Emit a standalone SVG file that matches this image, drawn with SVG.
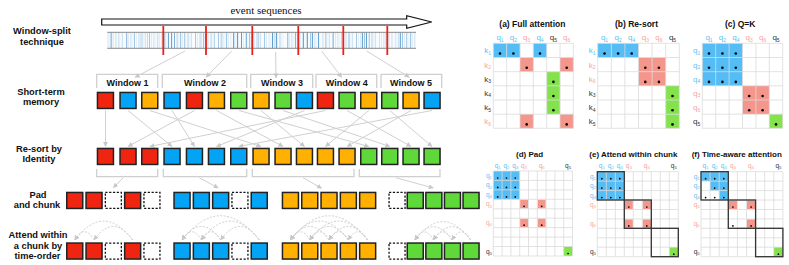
<svg xmlns="http://www.w3.org/2000/svg" width="789" height="265" viewBox="0 0 789 265">
<style>
text{font-family:"Liberation Sans",Arial,sans-serif}
text.serif{font-family:"Liberation Serif","Times New Roman",serif}
.lab{font-weight:bold;font-size:9.3px;fill:#111;text-anchor:middle}
.win{font-weight:bold;font-size:9px;fill:#111;text-anchor:middle}
.ttl{font-weight:bold;font-size:8.5px;fill:#111}
.ttl2{font-weight:bold;font-size:8px;fill:#111}
.q{font-size:8px;text-anchor:middle}
.qe{font-size:8px;text-anchor:end}
.qs{font-size:6.5px;text-anchor:middle}
.qse{font-size:6.5px;text-anchor:end}
.s{font-size:5px}
.ss{font-size:4.3px}
.cb{fill:#5ec1f0}.cp{fill:#f5a49c}.cd{fill:#333}
.sq rect{stroke:#222;stroke-width:1.5}
.R{fill:#f02511}.B{fill:#05a3f3}.O{fill:#ffb000}.G{fill:#5fd93a}
.P{fill:#fff;stroke:#111!important;stroke-width:1.3!important;stroke-dasharray:2.2 1.6}
.fb{fill:#55bdf5}.fp{fill:#f5968c}.fg{fill:#84e34d}
.grid{fill:none;stroke:#dadada;stroke-width:0.8}
.blk{fill:none;stroke:#333;stroke-width:1.3}
.gc{fill:none;stroke:#d0d0d0;stroke-width:1}
.arc{fill:none;stroke:#cfcfcf;stroke-width:1;stroke-dasharray:2 1.5}
.br{fill:none;stroke:#cfcfcf;stroke-width:1.3}
</style>
<defs>
<marker id="ah" viewBox="0 0 6 6" refX="5.5" refY="3" markerWidth="5" markerHeight="5" markerUnits="userSpaceOnUse" orient="auto"><path d="M0,0 L6,3 L0,6 z" fill="#c8c8c8"/></marker>
<pattern id="st" patternUnits="userSpaceOnUse" x="107" y="32" width="23" height="17">
<rect width="23" height="17" fill="#f7fbfe"/>
<rect x="0.5" width="0.8" height="17" fill="#c3dcef"/>
<rect x="2.6" width="0.6" height="17" fill="#e2eef8"/>
<rect x="4.2" width="0.9" height="17" fill="#8dbce2"/>
<rect x="6.3" width="0.6" height="17" fill="#d3e5f3"/>
<rect x="8.6" width="0.7" height="17" fill="#b4d4ec"/>
<rect x="11.6" width="0.8" height="17" fill="#a3c9e8"/>
<rect x="13.7" width="0.6" height="17" fill="#dbeaf5"/>
<rect x="15.3" width="0.7" height="17" fill="#c0daee"/>
<rect x="19" width="0.9" height="17" fill="#9ac3e6"/>
<rect x="21.2" width="0.6" height="17" fill="#cfe3f2"/>
</pattern>
<pattern id="st2" patternUnits="userSpaceOnUse" x="107" y="32" width="37" height="17">
<rect x="3" width="0.9" height="17" fill="#3d8ac7" opacity="0.3"/>
<rect x="12.5" width="1.2" height="17" fill="#ffffff" opacity="0.7"/>
<rect x="19.5" width="1" height="17" fill="#3d8ac7" opacity="0.25"/>
<rect x="28" width="1.2" height="17" fill="#ffffff" opacity="0.7"/>
<rect x="33" width="0.9" height="17" fill="#3d8ac7" opacity="0.2"/>
</pattern>
</defs>
<rect width="789" height="265" fill="#fff"/>

<g id="row-labels">
<text class="lab" x="42" y="34.4">Window-split</text>
<text class="lab" x="42" y="44.8">technique</text>
<text class="lab" x="41" y="94.5">Short-term</text>
<text class="lab" x="41" y="104.5">memory</text>
<text class="lab" x="39" y="151.8">Re-sort by</text>
<text class="lab" x="39" y="162.3">Identity</text>
<text class="lab" x="38" y="197.7">Pad</text>
<text class="lab" x="37" y="208.3">and chunk</text>
<text class="lab" x="38" y="237.7">Attend within</text>
<text class="lab" x="38" y="248.5">a chunk by</text>
<text class="lab" x="37.5" y="258.8">time-order</text>
</g>

<g id="event-sequence">
<text class="serif" x="266" y="14" font-size="11" text-anchor="middle" fill="#111">event sequences</text>
<polygon points="101.7,19 406.7,19 406.7,15.7 431.7,22 406.7,28.3 406.7,25 101.7,25" fill="#fff" stroke="#111" stroke-width="1.2"/>
<rect x="107.3" y="32.3" width="308.7" height="16" fill="url(#st)"/>
<rect x="107.3" y="32.3" width="308.7" height="16" fill="url(#st2)"/>
<g fill="#3f8ac6" opacity="0.75">
<rect x="168" y="32.3" width="0.9" height="16"/><rect x="171" y="32.3" width="1" height="16"/><rect x="174" y="32.3" width="0.8" height="16"/>
<rect x="233" y="32.3" width="0.9" height="16"/><rect x="237" y="32.3" width="1" height="16"/><rect x="241" y="32.3" width="0.9" height="16"/><rect x="246" y="32.3" width="0.8" height="16"/>
<rect x="272" y="32.3" width="0.9" height="16"/><rect x="276" y="32.3" width="1" height="16"/>
<rect x="303" y="32.3" width="0.9" height="16"/><rect x="307" y="32.3" width="1" height="16"/><rect x="312" y="32.3" width="0.9" height="16"/><rect x="318" y="32.3" width="0.8" height="16"/>
<rect x="362" y="32.3" width="0.9" height="16"/><rect x="366" y="32.3" width="1" height="16"/><rect x="400" y="32.3" width="0.9" height="16"/>
</g>
<path d="M107.3,32.3 H416 M107.3,48.3 H416" stroke="#8a8a8a" stroke-width="1"/>
<path d="M163.3,26 V55 M206,26 V55 M252.3,26 V55 M298.3,26 V55 M343.3,26 V55 M387.3,26 V55" stroke="#e8231a" stroke-width="1.8"/>
</g>

<g id="windows">
<path class="br" d="M96.7,88 V74.3 H157.7 V88 M162.3,88 V74.3 H246.7 V88 M250.7,88 V74.3 H312.7 V88 M316,88 V74.3 H376.7 V88 M381,88 V74.3 H441.7 V88"/>
<text class="win" x="127.5" y="86">Window 1</text>
<text class="win" x="205" y="86">Window 2</text>
<text class="win" x="282" y="86">Window 3</text>
<text class="win" x="346.7" y="86">Window 4</text>
<text class="win" x="411" y="86">Window 5</text>
</g>

<g id="connectors">
<g class="gc" marker-end="url(#ah)">
<path d="M185,51 L135,77.3"/>
<path d="M231.7,51 L206,77.3"/>
<path d="M275.7,52 L276,78"/>
<path d="M321.7,51 L341.7,77.3"/>
<path d="M366.7,51 L409.3,77.3"/>
<path d="M105.5,110.5 L105.5,146.5"/>
<path d="M194.5,110.5 L128,146.5"/>
<path d="M325.5,110.5 L149.8,146.5"/>
<path d="M128,110.5 L172,146.5"/>
<path d="M172,110.5 L194.5,146.5"/>
<path d="M304.5,110.5 L216.5,146.5"/>
<path d="M432,110.5 L238.8,146.5"/>
<path d="M149.8,110.5 L261,146.5"/>
<path d="M216.5,110.5 L283,146.5"/>
<path d="M261,110.5 L304.5,146.5"/>
<path d="M368.8,110.5 L325.5,146.5"/>
<path d="M411,110.5 L347,146.5"/>
<path d="M238.8,110.5 L368.8,146.5"/>
<path d="M283,110.5 L389.8,146.5"/>
<path d="M347,110.5 L411,146.5"/>
<path d="M389.8,110.5 L432,146.5"/>
<path d="M123.3,177.7 L113.3,187.7"/>
<path d="M199.3,177.7 L218.3,188"/>
<path d="M303,177.7 L321.7,188.3"/>
<path d="M396,177.7 L433.3,188"/>
</g>
<path class="br" d="M96.7,169 V176.7 H157.7 V169 M163.3,169 V176.7 H246.7 V169 M252.3,169 V176.7 H354 V169 M359.3,169 V176.7 H440 V169"/>
<g class="arc" marker-end="url(#ah)">
<path d="M94.05,240 Q84.4,223.4 74.75,240"/>
<path d="M132.65,240 Q103.7,202.2 74.75,240"/>
<path d="M132.65,240 Q113.35,212.8 94.05,240"/>
<path d="M201.35,240 Q191.7,223.4 182.05,240"/>
<path d="M220.65,240 Q201.35,212.8 182.05,240"/>
<path d="M220.65,240 Q211,223.4 201.35,240"/>
<path d="M259.25,240 Q220.65,191.5 182.05,240"/>
<path d="M259.25,240 Q230.3,202.2 201.35,240"/>
<path d="M259.25,240 Q239.95,212.8 220.65,240"/>
<path d="M309.75,240 Q300.1,223.4 290.45,240"/>
<path d="M329.05,240 Q309.75,212.8 290.45,240"/>
<path d="M329.05,240 Q319.4,223.4 309.75,240"/>
<path d="M348.35,240 Q319.4,202.2 290.45,240"/>
<path d="M348.35,240 Q329.05,212.8 309.75,240"/>
<path d="M348.35,240 Q338.7,223.4 329.05,240"/>
<path d="M367.65,240 Q329.05,191.5 290.45,240"/>
<path d="M367.65,240 Q338.7,202.2 309.75,240"/>
<path d="M367.65,240 Q348.35,212.8 329.05,240"/>
<path d="M367.65,240 Q358,223.4 348.35,240"/>
<path d="M433.5,240 Q424.2,223.8 414.9,240"/>
<path d="M452.1,240 Q433.5,213.5 414.9,240"/>
<path d="M452.1,240 Q442.8,223.8 433.5,240"/>
<path d="M470.7,240 Q442.8,203.3 414.9,240"/>
<path d="M470.7,240 Q452.1,213.5 433.5,240"/>
<path d="M470.7,240 Q461.4,223.8 452.1,240"/>
</g>
</g>

<g id="short-term-memory" class="sq">
<rect id="m0" class="R" x="97.45" y="92.45" width="16" height="16"/>
<rect id="m1" class="B" x="120.05" y="92.45" width="16" height="16"/>
<rect id="m2" class="O" x="141.75" y="92.45" width="16" height="16"/>
<rect id="m3" class="B" x="164.05" y="92.45" width="16" height="16"/>
<rect id="m4" class="R" x="186.45" y="92.45" width="16" height="16"/>
<rect id="m5" class="O" x="208.45" y="92.45" width="16" height="16"/>
<rect id="m6" class="G" x="230.75" y="92.45" width="16" height="16"/>
<rect id="m7" class="O" x="253.05" y="92.45" width="16" height="16"/>
<rect id="m8" class="G" x="275.05" y="92.45" width="16" height="16"/>
<rect id="m9" class="B" x="296.45" y="92.45" width="16" height="16"/>
<rect id="m10" class="R" x="317.45" y="92.45" width="16" height="16"/>
<rect id="m11" class="G" x="339.05" y="92.45" width="16" height="16"/>
<rect id="m12" class="O" x="360.75" y="92.45" width="16" height="16"/>
<rect id="m13" class="G" x="381.75" y="92.45" width="16" height="16"/>
<rect id="m14" class="O" x="403.05" y="92.45" width="16" height="16"/>
<rect id="m15" class="B" x="424.05" y="92.45" width="16" height="16"/>
</g>

<g id="resorted" class="sq">
<rect id="r0" class="R" x="97.45" y="148.45" width="16" height="16"/>
<rect id="r1" class="R" x="120.05" y="148.45" width="16" height="16"/>
<rect id="r2" class="R" x="141.75" y="148.45" width="16" height="16"/>
<rect id="r3" class="B" x="164.05" y="148.45" width="16" height="16"/>
<rect id="r4" class="B" x="186.45" y="148.45" width="16" height="16"/>
<rect id="r5" class="B" x="208.45" y="148.45" width="16" height="16"/>
<rect id="r6" class="B" x="230.75" y="148.45" width="16" height="16"/>
<rect id="r7" class="O" x="253.05" y="148.45" width="16" height="16"/>
<rect id="r8" class="O" x="275.05" y="148.45" width="16" height="16"/>
<rect id="r9" class="O" x="296.45" y="148.45" width="16" height="16"/>
<rect id="r10" class="O" x="317.45" y="148.45" width="16" height="16"/>
<rect id="r11" class="O" x="339.05" y="148.45" width="16" height="16"/>
<rect id="r12" class="G" x="360.75" y="148.45" width="16" height="16"/>
<rect id="r13" class="G" x="381.75" y="148.45" width="16" height="16"/>
<rect id="r14" class="G" x="403.05" y="148.45" width="16" height="16"/>
<rect id="r15" class="G" x="424.05" y="148.45" width="16" height="16"/>
</g>

<g id="pad-chunk" class="sq">
<rect id="p0" class="R" x="66.75" y="192.45" width="16" height="16"/>
<rect id="p1" class="R" x="86.05" y="192.45" width="16" height="16"/>
<rect id="p2" class="P" x="105.35" y="192.45" width="16" height="16"/>
<rect id="p3" class="R" x="124.65" y="192.45" width="16" height="16"/>
<rect id="p4" class="P" x="143.95" y="192.45" width="16" height="16"/>
<rect id="p5" class="B" x="174.05" y="192.45" width="16" height="16"/>
<rect id="p6" class="B" x="193.35" y="192.45" width="16" height="16"/>
<rect id="p7" class="B" x="212.65" y="192.45" width="16" height="16"/>
<rect id="p8" class="P" x="231.95" y="192.45" width="16" height="16"/>
<rect id="p9" class="B" x="251.25" y="192.45" width="16" height="16"/>
<rect id="p10" class="O" x="282.45" y="192.45" width="16" height="16"/>
<rect id="p11" class="O" x="301.75" y="192.45" width="16" height="16"/>
<rect id="p12" class="O" x="321.05" y="192.45" width="16" height="16"/>
<rect id="p13" class="O" x="340.35" y="192.45" width="16" height="16"/>
<rect id="p14" class="O" x="359.65" y="192.45" width="16" height="16"/>
<rect id="p15" class="P" x="389.05" y="192.45" width="16" height="16"/>
<rect id="p16" class="G" x="407.25" y="192.45" width="16" height="16"/>
<rect id="p17" class="G" x="425.85" y="192.45" width="16" height="16"/>
<rect id="p18" class="G" x="444.45" y="192.45" width="16" height="16"/>
<rect id="p19" class="G" x="463.05" y="192.45" width="16" height="16"/>
</g>

<g id="attend-chunk" class="sq">
<rect id="a0" class="R" x="66.75" y="243.05" width="16" height="16"/>
<rect id="a1" class="R" x="86.05" y="243.05" width="16" height="16"/>
<rect id="a2" class="P" x="105.35" y="243.05" width="16" height="16"/>
<rect id="a3" class="R" x="124.65" y="243.05" width="16" height="16"/>
<rect id="a4" class="P" x="143.95" y="243.05" width="16" height="16"/>
<rect id="a5" class="B" x="174.05" y="243.05" width="16" height="16"/>
<rect id="a6" class="B" x="193.35" y="243.05" width="16" height="16"/>
<rect id="a7" class="B" x="212.65" y="243.05" width="16" height="16"/>
<rect id="a8" class="P" x="231.95" y="243.05" width="16" height="16"/>
<rect id="a9" class="B" x="251.25" y="243.05" width="16" height="16"/>
<rect id="a10" class="O" x="282.45" y="243.05" width="16" height="16"/>
<rect id="a11" class="O" x="301.75" y="243.05" width="16" height="16"/>
<rect id="a12" class="O" x="321.05" y="243.05" width="16" height="16"/>
<rect id="a13" class="O" x="340.35" y="243.05" width="16" height="16"/>
<rect id="a14" class="O" x="359.65" y="243.05" width="16" height="16"/>
<rect id="a15" class="P" x="389.05" y="243.05" width="16" height="16"/>
<rect id="a16" class="G" x="407.25" y="243.05" width="16" height="16"/>
<rect id="a17" class="G" x="425.85" y="243.05" width="16" height="16"/>
<rect id="a18" class="G" x="444.45" y="243.05" width="16" height="16"/>
<rect id="a19" class="G" x="463.05" y="243.05" width="16" height="16"/>
</g>

<g id="matrix-a">
<text class="ttl" x="499.3" y="26.5">(a) Full attention</text>
<rect class="fb" x="493.3" y="43.3" width="13.4" height="14.2"/><rect class="fb" x="506.7" y="43.3" width="13.4" height="14.2"/><rect class="fb" x="533.3" y="43.3" width="13.4" height="14.2"/>
<rect class="fp" x="520" y="57.5" width="13.4" height="14.2"/><rect class="fp" x="560" y="57.5" width="13.4" height="14.2"/><rect class="fp" x="520" y="114.2" width="13.4" height="14.2"/><rect class="fp" x="560" y="114.2" width="13.4" height="14.2"/>
<rect class="fg" x="546.7" y="71.7" width="13.4" height="14.2"/><rect class="fg" x="546.7" y="85.8" width="13.4" height="14.2"/><rect class="fg" x="546.7" y="100" width="13.4" height="14.2"/>
<path class="grid" d="M493.3,43.3V128.3M506.7,43.3V128.3M520,43.3V128.3M533.3,43.3V128.3M546.7,43.3V128.3M560,43.3V128.3M573.3,43.3V128.3M493.3,43.3H573.3M493.3,57.5H573.3M493.3,71.7H573.3M493.3,85.8H573.3M493.3,100H573.3M493.3,114.2H573.3M493.3,128.3H573.3"/>
<g fill="#000"><circle cx="500" cy="53.5" r="1.3"/><circle cx="513.4" cy="53.5" r="1.3"/><circle cx="540" cy="53.5" r="1.3"/><circle cx="526.7" cy="67.7" r="1.3"/><circle cx="566.7" cy="67.7" r="1.3"/><circle cx="526.7" cy="124.4" r="1.3"/><circle cx="566.7" cy="124.4" r="1.3"/><circle cx="553.4" cy="81.9" r="1.3"/><circle cx="553.4" cy="96" r="1.3"/><circle cx="553.4" cy="110.2" r="1.3"/></g>
<text class="q cb" x="500" y="40">q<tspan class="s" dy="1.5">1</tspan></text>
<text class="q cb" x="513.3" y="40">q<tspan class="s" dy="1.5">2</tspan></text>
<text class="q cp" x="526.7" y="40">q<tspan class="s" dy="1.5">3</tspan></text>
<text class="q cb" x="540" y="40">q<tspan class="s" dy="1.5">4</tspan></text>
<text class="q cd" x="553.3" y="40">q<tspan class="s" dy="1.5">5</tspan></text>
<text class="q cp" x="566.7" y="40">q<tspan class="s" dy="1.5">6</tspan></text>
<text class="qe cb" x="491" y="53.4">k<tspan class="s" dy="1.5">1</tspan></text>
<text class="qe cp" x="491" y="67.6">k<tspan class="s" dy="1.5">2</tspan></text>
<text class="qe cd" x="491" y="81.8">k<tspan class="s" dy="1.5">3</tspan></text>
<text class="qe cd" x="491" y="95.9">k<tspan class="s" dy="1.5">4</tspan></text>
<text class="qe cd" x="491" y="110.1">k<tspan class="s" dy="1.5">5</tspan></text>
<text class="qe cp" x="491" y="124.2">k<tspan class="s" dy="1.5">6</tspan></text>
</g>

<g id="matrix-b">
<text class="ttl" x="615" y="26.5">(b) Re-sort</text>
<rect class="fb" x="597.7" y="43.3" width="13.7" height="14.2"/><rect class="fb" x="611.3" y="43.3" width="13.7" height="14.2"/><rect class="fb" x="624.9" y="43.3" width="13.7" height="14.2"/>
<rect class="fp" x="638.5" y="57.5" width="13.7" height="14.2"/><rect class="fp" x="652.1" y="57.5" width="13.7" height="14.2"/><rect class="fp" x="638.5" y="71.7" width="13.7" height="14.2"/><rect class="fp" x="652.1" y="71.7" width="13.7" height="14.2"/>
<rect class="fg" x="665.7" y="85.8" width="13.6" height="14.2"/><rect class="fg" x="665.7" y="100" width="13.6" height="14.2"/><rect class="fg" x="665.7" y="114.2" width="13.6" height="14.1"/>
<path class="grid" d="M597.7,43.3V128.3M611.3,43.3V128.3M624.9,43.3V128.3M638.5,43.3V128.3M652.1,43.3V128.3M665.7,43.3V128.3M679.3,43.3V128.3M597.7,43.3H679.3M597.7,57.5H679.3M597.7,71.7H679.3M597.7,85.8H679.3M597.7,100H679.3M597.7,114.2H679.3M597.7,128.3H679.3"/>
<g fill="#000"><circle cx="604.5" cy="53.5" r="1.3"/><circle cx="618.1" cy="53.5" r="1.3"/><circle cx="631.7" cy="53.5" r="1.3"/><circle cx="645.3" cy="67.7" r="1.3"/><circle cx="658.9" cy="67.7" r="1.3"/><circle cx="645.3" cy="81.9" r="1.3"/><circle cx="658.9" cy="81.9" r="1.3"/><circle cx="672.5" cy="96" r="1.3"/><circle cx="672.5" cy="110.2" r="1.3"/><circle cx="672.5" cy="124.4" r="1.3"/></g>
<text class="q cb" x="604.5" y="40">q<tspan class="s" dy="1.5">1</tspan></text>
<text class="q cb" x="618.1" y="40">q<tspan class="s" dy="1.5">2</tspan></text>
<text class="q cb" x="631.7" y="40">q<tspan class="s" dy="1.5">4</tspan></text>
<text class="q cp" x="645.3" y="40">q<tspan class="s" dy="1.5">3</tspan></text>
<text class="q cp" x="658.9" y="40">q<tspan class="s" dy="1.5">6</tspan></text>
<text class="q cd" x="672.5" y="40">q<tspan class="s" dy="1.5">5</tspan></text>
<text class="qe cb" x="595.5" y="53.4">k<tspan class="s" dy="1.5">1</tspan></text>
<text class="qe cp" x="595.5" y="67.6">k<tspan class="s" dy="1.5">2</tspan></text>
<text class="qe cp" x="595.5" y="81.8">k<tspan class="s" dy="1.5">6</tspan></text>
<text class="qe cd" x="595.5" y="95.9">k<tspan class="s" dy="1.5">3</tspan></text>
<text class="qe cd" x="595.5" y="110.1">k<tspan class="s" dy="1.5">4</tspan></text>
<text class="qe cd" x="595.5" y="124.2">k<tspan class="s" dy="1.5">5</tspan></text>
</g>

<g id="matrix-c">
<text class="ttl" x="725" y="26.5">(c) Q=K</text>
<rect class="fb" x="702.3" y="43.3" width="40.2" height="42.5"/>
<rect class="fp" x="742.5" y="85.8" width="26.8" height="28.4"/>
<rect class="fg" x="769.3" y="114.2" width="13.4" height="14.1"/>
<path class="grid" d="M702.3,43.3V128.3M715.7,43.3V128.3M729.1,43.3V128.3M742.5,43.3V128.3M755.9,43.3V128.3M769.3,43.3V128.3M782.7,43.3V128.3M702.3,43.3H782.7M702.3,57.5H782.7M702.3,71.7H782.7M702.3,85.8H782.7M702.3,100H782.7M702.3,114.2H782.7M702.3,128.3H782.7"/>
<g fill="#000"><circle cx="709" cy="53.5" r="1.3"/><circle cx="722.4" cy="53.5" r="1.3"/><circle cx="735.8" cy="53.5" r="1.3"/><circle cx="709" cy="67.7" r="1.3"/><circle cx="722.4" cy="67.7" r="1.3"/><circle cx="735.8" cy="67.7" r="1.3"/><circle cx="709" cy="81.9" r="1.3"/><circle cx="722.4" cy="81.9" r="1.3"/><circle cx="735.8" cy="81.9" r="1.3"/><circle cx="749.2" cy="96" r="1.3"/><circle cx="762.6" cy="96" r="1.3"/><circle cx="749.2" cy="110.2" r="1.3"/><circle cx="762.6" cy="110.2" r="1.3"/><circle cx="776" cy="124.4" r="1.3"/></g>
<text class="q cb" x="709" y="40">q<tspan class="s" dy="1.5">1</tspan></text>
<text class="q cb" x="722.4" y="40">q<tspan class="s" dy="1.5">2</tspan></text>
<text class="q cb" x="735.8" y="40">q<tspan class="s" dy="1.5">4</tspan></text>
<text class="q cp" x="749.2" y="40">q<tspan class="s" dy="1.5">3</tspan></text>
<text class="q cp" x="762.6" y="40">q<tspan class="s" dy="1.5">6</tspan></text>
<text class="q cd" x="776" y="40">q<tspan class="s" dy="1.5">5</tspan></text>
<text class="qe cb" x="700.3" y="53.4">q<tspan class="s" dy="1.5">1</tspan></text>
<text class="qe cb" x="700.3" y="67.6">q<tspan class="s" dy="1.5">2</tspan></text>
<text class="qe cb" x="700.3" y="81.8">q<tspan class="s" dy="1.5">4</tspan></text>
<text class="qe cp" x="700.3" y="95.9">q<tspan class="s" dy="1.5">3</tspan></text>
<text class="qe cp" x="700.3" y="110.1">q<tspan class="s" dy="1.5">6</tspan></text>
<text class="qe cd" x="700.3" y="124.2">q<tspan class="s" dy="1.5">5</tspan></text>
</g>

<g id="matrix-d">
<text class="ttl2" x="516" y="157.2">(d) Pad</text>
<rect class="fb" x="493.3" y="171" width="26.4" height="28.3"/>
<rect class="fp" x="520.1" y="199.7" width="8" height="8.7"/><rect class="fp" x="537.7" y="199.7" width="8" height="8.7"/><rect class="fp" x="520.1" y="218.6" width="8" height="8.7"/><rect class="fp" x="537.7" y="218.6" width="8" height="8.7"/>
<rect class="fg" x="563.7" y="246.5" width="8.8" height="9.5"/>
<path class="grid" d="M493.3,171V256M502.1,171V256M510.9,171V256M519.7,171V256M528.5,171V256M537.3,171V256M546.1,171V256M554.9,171V256M563.7,171V256M572.5,171V256M493.3,171H572.5M493.3,180.4H572.5M493.3,189.9H572.5M493.3,199.3H572.5M493.3,208.8H572.5M493.3,218.2H572.5M493.3,227.6H572.5M493.3,237.1H572.5M493.3,246.5H572.5M493.3,256H572.5"/>
<g fill="#000"><circle cx="497.7" cy="178" r="0.85"/><circle cx="506.5" cy="178" r="0.85"/><circle cx="515.3" cy="178" r="0.85"/><circle cx="497.7" cy="187.4" r="0.85"/><circle cx="506.5" cy="187.4" r="0.85"/><circle cx="515.3" cy="187.4" r="0.85"/><circle cx="497.7" cy="196.9" r="0.85"/><circle cx="506.5" cy="196.9" r="0.85"/><circle cx="515.3" cy="196.9" r="0.85"/><circle cx="524.1" cy="206.3" r="0.85"/><circle cx="541.7" cy="206.3" r="0.85"/><circle cx="524.1" cy="225.2" r="0.85"/><circle cx="541.7" cy="225.2" r="0.85"/><circle cx="568.1" cy="253.5" r="0.85"/></g>
<text class="qs cb" x="497.7" y="167.5">q<tspan class="ss" dy="1.2">1</tspan></text>
<text class="qs cb" x="506.5" y="167.5">q<tspan class="ss" dy="1.2">2</tspan></text>
<text class="qs cb" x="515.3" y="167.5">q<tspan class="ss" dy="1.2">4</tspan></text>
<text class="qs cp" x="524.1" y="167.5">q<tspan class="ss" dy="1.2">3</tspan></text>
<text class="qs cp" x="541.7" y="167.5">q<tspan class="ss" dy="1.2">6</tspan></text>
<text class="qs cd" x="568.1" y="167.5">q<tspan class="ss" dy="1.2">5</tspan></text>
<text class="qse cb" x="492" y="177.9">q<tspan class="ss" dy="1.2">1</tspan></text>
<text class="qse cb" x="492" y="187.4">q<tspan class="ss" dy="1.2">2</tspan></text>
<text class="qse cb" x="492" y="196.8">q<tspan class="ss" dy="1.2">4</tspan></text>
<text class="qse cp" x="492" y="206.3">q<tspan class="ss" dy="1.2">3</tspan></text>
<text class="qse cp" x="492" y="225.1">q<tspan class="ss" dy="1.2">6</tspan></text>
<text class="qse cd" x="492" y="253.5">q<tspan class="ss" dy="1.2">5</tspan></text>
</g>

<g id="matrix-e">
<text class="ttl2" x="589.3" y="157.2">(e) Attend within chunk</text>
<rect class="fb" x="597.3" y="171.7" width="27" height="28.3"/>
<rect class="fp" x="624.7" y="200.4" width="8.2" height="8.7"/><rect class="fp" x="642.7" y="200.4" width="8.2" height="8.7"/><rect class="fp" x="624.7" y="219.3" width="8.2" height="8.7"/><rect class="fp" x="642.7" y="219.3" width="8.2" height="8.7"/>
<rect class="fg" x="669.3" y="247.2" width="9" height="9.5"/>
<path class="grid" d="M597.3,171.7V256.7M606.3,171.7V256.7M615.3,171.7V256.7M624.3,171.7V256.7M633.3,171.7V256.7M642.3,171.7V256.7M651.3,171.7V256.7M660.3,171.7V256.7M669.3,171.7V256.7M678.3,171.7V256.7M597.3,171.7H678.3M597.3,181.1H678.3M597.3,190.6H678.3M597.3,200H678.3M597.3,209.5H678.3M597.3,218.9H678.3M597.3,228.3H678.3M597.3,237.8H678.3M597.3,247.2H678.3M597.3,256.7H678.3"/>
<rect class="blk" x="597.3" y="171.7" width="27" height="28.3"/>
<rect class="blk" x="624.3" y="200" width="27" height="28.3" stroke="#555"/>
<rect class="blk" x="651.3" y="228.3" width="27" height="28.4"/>
<g fill="#000"><circle cx="601.8" cy="178.7" r="0.85"/><circle cx="610.8" cy="178.7" r="0.85"/><circle cx="619.8" cy="178.7" r="0.85"/><circle cx="601.8" cy="188.1" r="0.85"/><circle cx="610.8" cy="188.1" r="0.85"/><circle cx="619.8" cy="188.1" r="0.85"/><circle cx="601.8" cy="197.6" r="0.85"/><circle cx="610.8" cy="197.6" r="0.85"/><circle cx="619.8" cy="197.6" r="0.85"/><circle cx="628.8" cy="207" r="0.85"/><circle cx="646.8" cy="207" r="0.85"/><circle cx="628.8" cy="225.9" r="0.85"/><circle cx="646.8" cy="225.9" r="0.85"/><circle cx="673.8" cy="254.2" r="0.85"/></g>
<text class="qs cb" x="601.8" y="168">q<tspan class="ss" dy="1.2">1</tspan></text>
<text class="qs cb" x="610.8" y="168">q<tspan class="ss" dy="1.2">2</tspan></text>
<text class="qs cb" x="619.8" y="168">q<tspan class="ss" dy="1.2">4</tspan></text>
<text class="qs cp" x="628.8" y="168">q<tspan class="ss" dy="1.2">3</tspan></text>
<text class="qs cp" x="646.8" y="168">q<tspan class="ss" dy="1.2">6</tspan></text>
<text class="qs cd" x="673.8" y="168">q<tspan class="ss" dy="1.2">5</tspan></text>
<text class="qse cb" x="596" y="178.6">q<tspan class="ss" dy="1.2">1</tspan></text>
<text class="qse cb" x="596" y="188.1">q<tspan class="ss" dy="1.2">2</tspan></text>
<text class="qse cb" x="596" y="197.5">q<tspan class="ss" dy="1.2">4</tspan></text>
<text class="qse cp" x="596" y="207">q<tspan class="ss" dy="1.2">3</tspan></text>
<text class="qse cp" x="596" y="225.8">q<tspan class="ss" dy="1.2">6</tspan></text>
<text class="qse cd" x="596" y="254.2">q<tspan class="ss" dy="1.2">5</tspan></text>
</g>

<g id="matrix-f">
<text class="ttl2" x="691.7" y="157.2">(f) Time-aware attention</text>
<rect class="fb" x="701" y="171.7" width="27.3" height="9.4"/>
<rect class="fb" x="710.1" y="181.1" width="18.2" height="9.5"/>
<rect class="fb" x="719.2" y="190.6" width="9.1" height="9.4"/>
<rect class="fp" x="728.7" y="200.4" width="8.3" height="8.7"/><rect class="fp" x="746.9" y="200.4" width="8.3" height="8.7"/><rect class="fp" x="746.9" y="219.3" width="8.3" height="8.7"/>
<rect class="fg" x="773.8" y="247.2" width="9.1" height="9.5"/>
<path class="grid" d="M701,171.7V256.7M710.1,171.7V256.7M719.2,171.7V256.7M728.3,171.7V256.7M737.4,171.7V256.7M746.5,171.7V256.7M755.6,171.7V256.7M764.7,171.7V256.7M773.8,171.7V256.7M782.9,171.7V256.7M701,171.7H782.9M701,181.1H782.9M701,190.6H782.9M701,200H782.9M701,209.5H782.9M701,218.9H782.9M701,228.3H782.9M701,237.8H782.9M701,247.2H782.9M701,256.7H782.9"/>
<rect class="blk" x="701" y="171.7" width="27.3" height="28.3"/>
<rect class="blk" x="728.3" y="200" width="27.3" height="28.3"/>
<rect class="blk" x="755.6" y="228.3" width="27.3" height="28.4"/>
<g fill="#000"><circle cx="705.6" cy="178.7" r="0.85"/><circle cx="714.7" cy="178.7" r="0.85"/><circle cx="723.8" cy="178.7" r="0.85"/><circle cx="714.7" cy="188.1" r="0.85"/><circle cx="723.8" cy="188.1" r="0.85"/><circle cx="705.6" cy="197.6" r="0.85"/><circle cx="714.7" cy="197.6" r="0.85"/><circle cx="723.8" cy="197.6" r="0.85"/><circle cx="732.9" cy="207" r="0.85"/><circle cx="751.1" cy="207" r="0.85"/><circle cx="732.9" cy="225.9" r="0.85"/><circle cx="751.1" cy="225.9" r="0.85"/><circle cx="778.4" cy="254.2" r="0.85"/></g>
<text class="qs cb" x="705.6" y="168">q<tspan class="ss" dy="1.2">1</tspan></text>
<text class="qs cb" x="714.7" y="168">q<tspan class="ss" dy="1.2">2</tspan></text>
<text class="qs cb" x="723.8" y="168">q<tspan class="ss" dy="1.2">4</tspan></text>
<text class="qs cp" x="732.9" y="168">q<tspan class="ss" dy="1.2">3</tspan></text>
<text class="qs cp" x="751.1" y="168">q<tspan class="ss" dy="1.2">6</tspan></text>
<text class="qs cd" x="778.4" y="168">q<tspan class="ss" dy="1.2">5</tspan></text>
<text class="qse cb" x="699.7" y="178.6">q<tspan class="ss" dy="1.2">1</tspan></text>
<text class="qse cb" x="699.7" y="188.1">q<tspan class="ss" dy="1.2">2</tspan></text>
<text class="qse cb" x="699.7" y="197.5">q<tspan class="ss" dy="1.2">4</tspan></text>
<text class="qse cp" x="699.7" y="207">q<tspan class="ss" dy="1.2">3</tspan></text>
<text class="qse cp" x="699.7" y="225.8">q<tspan class="ss" dy="1.2">6</tspan></text>
<text class="qse cd" x="699.7" y="254.2">q<tspan class="ss" dy="1.2">5</tspan></text>
</g>
</svg>
